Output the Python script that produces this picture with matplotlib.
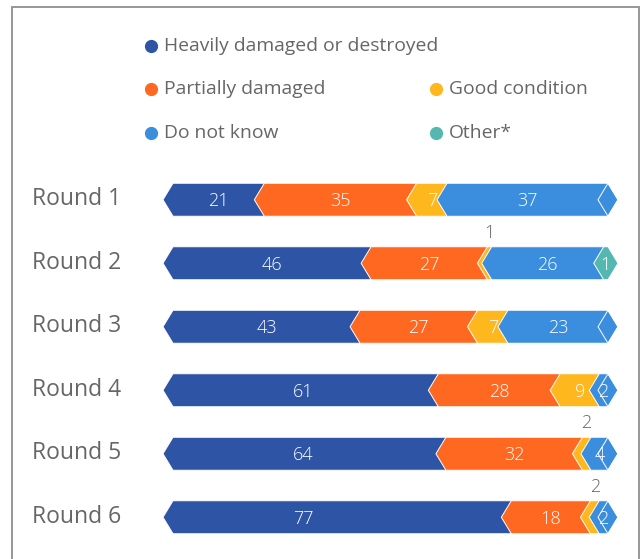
import numpy as np
import matplotlib.pyplot as plt
from matplotlib.patches import Polygon, Rectangle
from matplotlib.lines import Line2D

#~~~~~~~~~~~~~~~~~~~~~~~~~~~~~~~~~~~~~~~~~~~~~~~~~~

# DATA

rounds = ["Round 1", "Round 2", "Round 3", "Round 4", "Round 5", "Round 6"]

categories = ["Heavily damaged or destroyed", "Partially damaged",
              "Good condition", "Do not know", "Other*"]

heavily   = [21, 46, 43, 61, 64, 77]
partially = [35, 27, 27, 28, 32, 18]
good      = [7, 1, 7, 9, 2, 2]
dontknow  = [37, 26, 23, 2, 4, 2]
other     = [0, 1, 0, 0, 0, 0]

#~~~~~~~~~~~~~~~~~~~~~~~~~~~~~~~~~~~~~~~~~~~~~~~~~~

# STYLE

COLORS = ["#2E54A5", "#FF6820", "#FFB71E", "#3A8EDD", "#55B8B0"]
GREY = "#666666"
FONT = ["Open Sans", "DejaVu Sans"]

W, H = 641, 559
TIP = 2.3        # chevron depth, in percent units
BAR_H = 0.52
MAX_OFFSET = 30  # labels of long segments stay near their start

plt.rcParams["font.family"] = FONT

#~~~~~~~~~~~~~~~~~~~~~~~~~~~~~~~~~~~~~~~~~~~~~~~~~~

# FIGURE AND AXIS PREPARATION

figure = plt.figure(figsize=(W / 100, H / 100), dpi=100)

# 0 % -> x = 173 px, 100 % -> x = 608 px; rows from y = 168 px to 549 px
axis = figure.add_axes([173 / W, 1 - 549 / H, 435 / W, 381 / H])
axis.set_xlim(0, 100)
axis.set_ylim(len(rounds) - 0.5, -0.5)
axis.axis("off")

# frame
figure.patches.append(Rectangle((11.5 / W, -0.05), (639 - 11.5) / W,
                                1.05 - 6.5 / H, transform=figure.transFigure,
                                fill=False, edgecolor="#8f8f8f", linewidth=1.3))

#~~~~~~~~~~~~~~~~~~~~~~~~~~~~~~~~~~~~~~~~~~~~~~~~~~

# BARS

series = np.array([heavily, partially, good, dontknow, other], dtype=float)

for row in range(len(rounds)):
    values = series[:, row]
    scaled = values / values.sum() * 100
    starts = np.concatenate([[0], np.cumsum(scaled)[:-1]])
    nonzero = np.nonzero(values)[0]
    last = nonzero[-1]

    top, bottom = row - BAR_H / 2, row + BAR_H / 2

    for k in range(len(values)):
        x0, x1 = starts[k], starts[k] + scaled[k]
        shape = [(x0 - TIP, row), (x0, top), (x1, top),
                 (x1 + TIP, row), (x1, bottom), (x0, bottom)]
        if values[k] == 0:
            axis.add_patch(Polygon(shape, closed=True, facecolor="none",
                                   edgecolor="white", linewidth=0.7,
                                   clip_on=False, zorder=3))
            continue
        axis.add_patch(Polygon(shape, closed=True, facecolor=COLORS[k],
                               edgecolor="white", linewidth=0.7,
                               clip_on=False, zorder=2))

        label = str(int(values[k]))
        xc = x0 + min(scaled[k] / 2, MAX_OFFSET)
        if values[k] < 3 and k != last:
            axis.text(xc, top - 0.08, label, ha="center", va="bottom",
                      color=GREY, fontsize=13, fontweight="light", zorder=4)
        else:
            axis.text(xc, row + 0.02, label, ha="center", va="center",
                      color="white", fontsize=13, fontweight="light",
                      zorder=4)

    axis.text(-32.4, row - 0.01, rounds[row], ha="left", va="center",
              color=GREY, fontsize=16.5)

#~~~~~~~~~~~~~~~~~~~~~~~~~~~~~~~~~~~~~~~~~~~~~~~~~~

# LEGEND

legend_pos = [(151, 46), (151, 89), (436, 89), (151, 133), (436, 133)]

for k, name in enumerate(categories):
    px, py = legend_pos[k]
    figure.add_artist(Line2D([px / W], [1 - py / H], marker="o",
                             markersize=8.5, color=COLORS[k],
                             transform=figure.transFigure))
    figure.text((px + 13) / W, 1 - py / H, name, ha="left", va="center",
                color=GREY, fontsize=13.9)

#~~~~~~~~~~~~~~~~~~~~~~~~~~~~~~~~~~~~~~~~~~~~~~~~~~

# SAVING

figure.savefig("out.png", dpi=100)
